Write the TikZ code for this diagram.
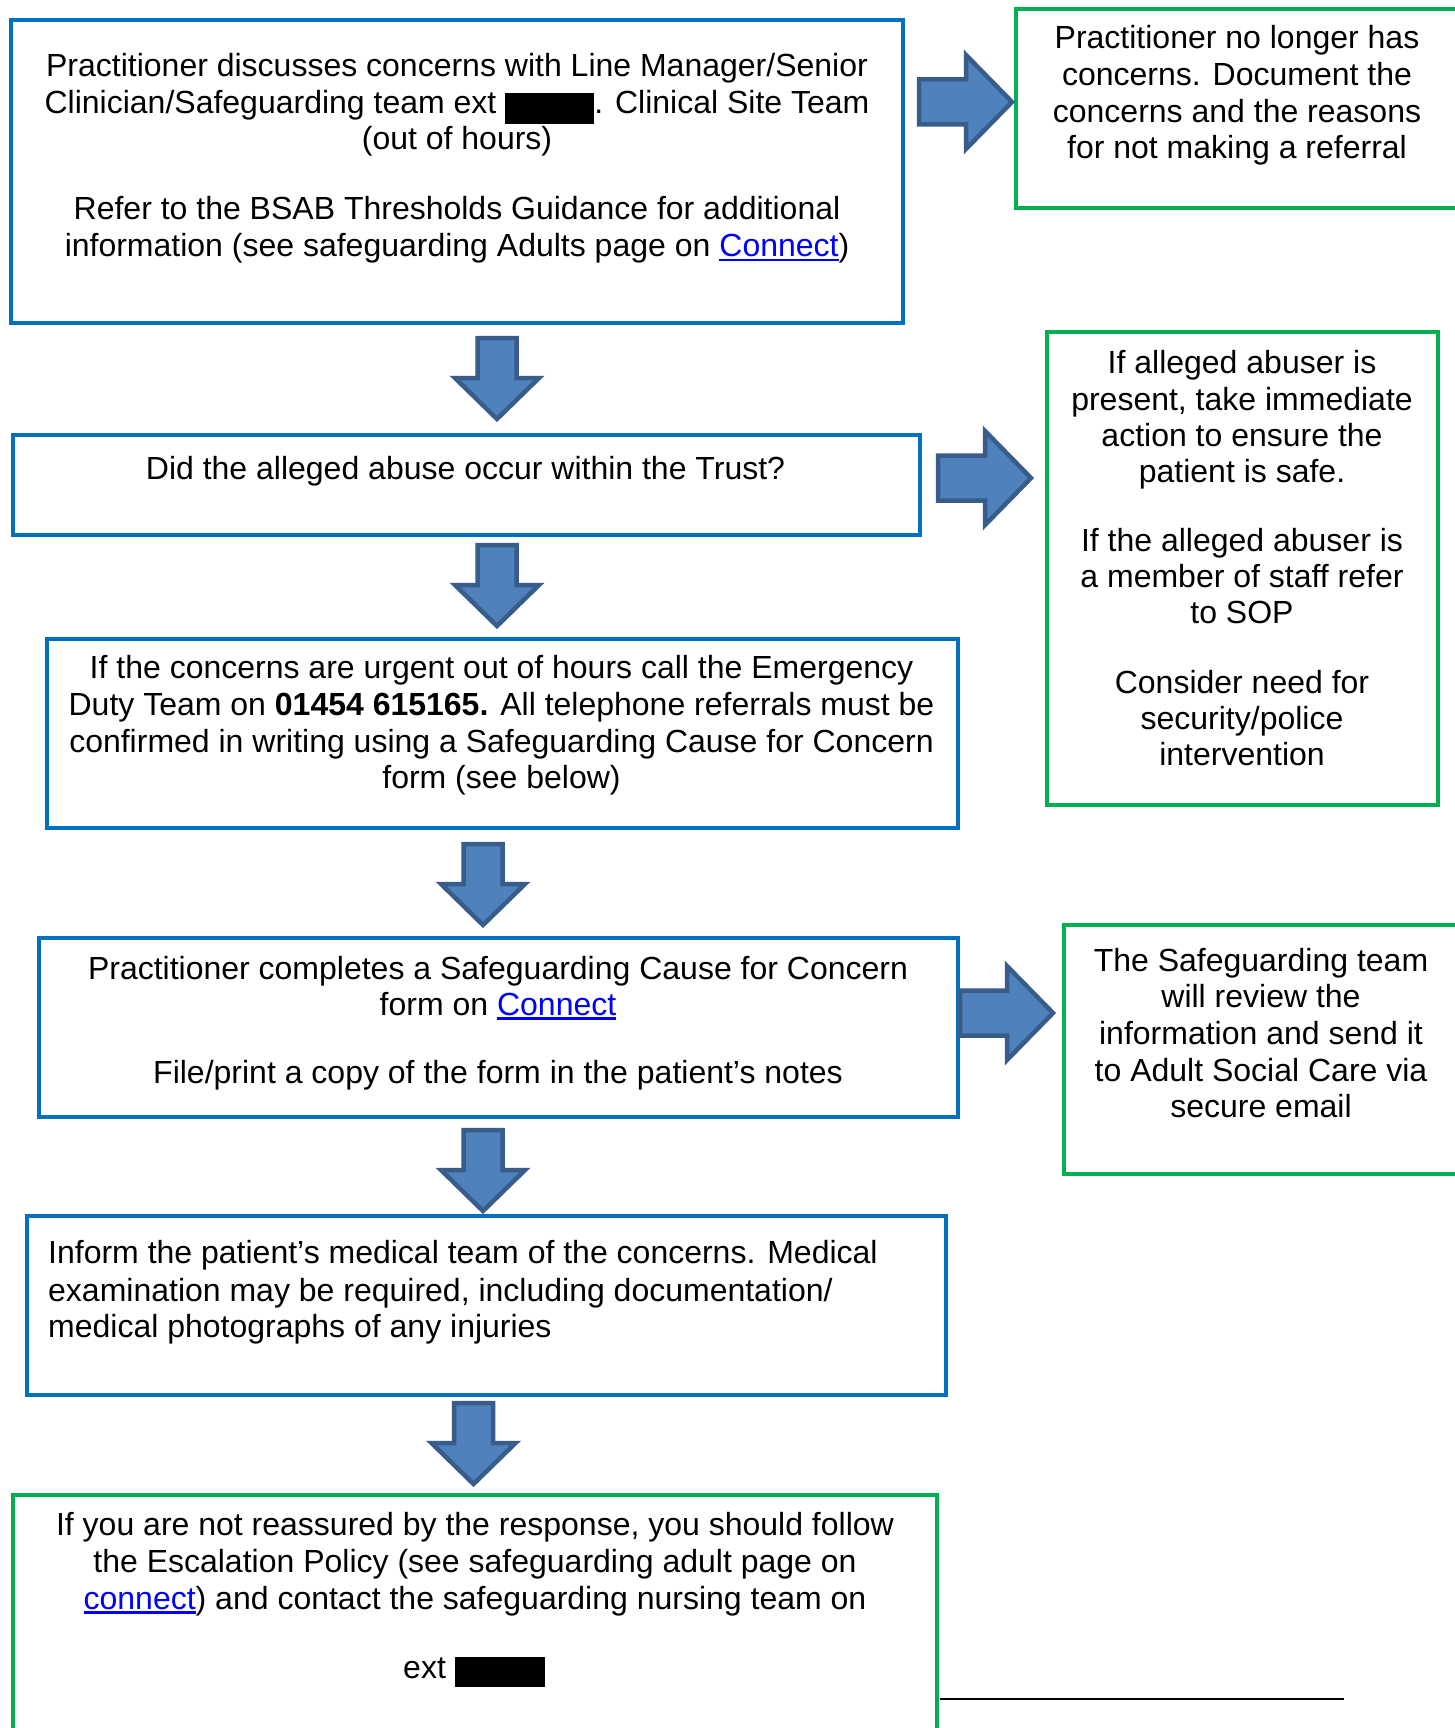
\documentclass[tikz,border=0pt]{standalone}
\usepackage{fontspec}
\setmainfont{Liberation Sans}
\definecolor{boxblue}{HTML}{0070C0}
\definecolor{boxgreen}{HTML}{00B050}
\definecolor{arrfill}{HTML}{4F81BD}
\definecolor{arrline}{HTML}{385D8A}
\definecolor{linkblue}{HTML}{0000FF}
\newcommand\lnk[1]{{\color{linkblue}\setbox0\hbox{#1}\rlap{\rule[-4.5pt]{\wd0}{2.5pt}}\box0}}
\tikzset{
  bbox/.style={draw=boxblue, line width=4pt, rectangle, inner sep=0pt, outer sep=0pt, anchor=north west},
  gbox/.style={draw=boxgreen, line width=4pt, rectangle, inner sep=0pt, outer sep=0pt, anchor=north west},
  txt/.style={font=\fontsize{32}{37}\selectfont, inner sep=0pt, anchor=base},
  ltxt/.style={txt, anchor=base west},
  blockarrow/.style={fill=arrfill, draw=arrline, line width=4.5pt, line join=miter},
  downarr/.pic={\draw[blockarrow] (-19.5,2) -- (19.5,2) -- (19.5,42) -- (42,42) -- (0,83) -- (-42,42) -- (-19.5,42) -- cycle;},
  rightarr/.pic={\draw[blockarrow] (2,-22.5) -- (49,-22.5) -- (49,-47) -- (95,0) -- (49,47) -- (49,22.5) -- (2,22.5) -- cycle;}
}
\begin{document}
\begin{tikzpicture}[x=1pt,y=-1pt]
\useasboundingbox[fill=white] (0,0) rectangle (1455,1728);
% boxes
\node[bbox, minimum width=892pt, minimum height=303pt] (b1) at (11,20) {};
\node[gbox, minimum width=460pt, minimum height=199pt] (g1) at (1016,9) {};
\node[bbox, minimum width=907pt, minimum height=100pt] (b2) at (13,435) {};
\node[gbox, minimum width=391pt, minimum height=473pt] (g2) at (1047,332) {};
\node[bbox, minimum width=911pt, minimum height=189pt] (b3) at (47,639) {};
\node[bbox, minimum width=919pt, minimum height=179pt] (b4) at (39,938) {};
\node[gbox, minimum width=420pt, minimum height=249pt] (g4) at (1064,925) {};
\node[bbox, minimum width=919pt, minimum height=179pt] (b5) at (27,1216) {};
\node[gbox, minimum width=924pt, minimum height=260pt] (g6) at (13,1495) {};
% block arrows
\pic (ra1) at (917,102) {rightarr};
\pic (da1) at (497,336) {downarr};
\pic (ra2) at (936,478) {rightarr};
\pic (da2) at (497,543) {downarr};
\pic (da3) at (483,842) {downarr};
\pic (ra4) at (958,1013) {rightarr};
\pic (da4) at (483,1128) {downarr};
\pic (da5) at (473.5,1401) {downarr};
% bottom line
\coordinate (la) at (940,1699);
\coordinate (lb) at (1344,1699);
\draw[line width=2pt] (la) -- (lb);
% box 1 text
\node[txt] (t1a) at (457,77) {Practitioner discusses concerns with Line Manager/Senior};
\node[txt] (t1b) at (457,114) {Clinician/Safeguarding team ext \rule[-10pt]{89pt}{31pt}. Clinical Site Team};
\node[txt] (t1c) at (457,150) {(out of hours)};
\node[txt] (t1d) at (457,220) {Refer to the BSAB Thresholds Guidance for additional};
\node[txt] (t1e) at (457,257) {information (see safeguarding Adults page on \lnk{Connect})};
% green 1
\node[txt] (u1a) at (1237,49) {Practitioner no longer has};
\node[txt] (u1b) at (1237,86) {concerns. Document the};
\node[txt] (u1c) at (1237,123) {concerns and the reasons};
\node[txt] (u1d) at (1237,159) {for not making a referral};
% box 2
\node[txt] (t2a) at (465.5,479) {Did the alleged abuse occur within the Trust?};
% green 2
\node[txt] (u2a) at (1242,373) {If alleged abuser is};
\node[txt] (u2b) at (1242,410) {present, take immediate};
\node[txt] (u2c) at (1242,446) {action to ensure the};
\node[txt] (u2d) at (1242,482) {patient is safe.};
\node[txt] (u2e) at (1242,551) {If the alleged abuser is};
\node[txt] (u2f) at (1242,587) {a member of staff refer};
\node[txt] (u2g) at (1242,623) {to SOP};
\node[txt] (u2h) at (1242,693) {Consider need for};
\node[txt] (u2i) at (1242,729) {security/police};
\node[txt] (u2j) at (1242,765) {intervention};
% box 3
\node[txt] (t3a) at (501.5,678) {If the concerns are urgent out of hours call the Emergency};
\node[txt] (t3b) at (501.5,715) {Duty Team on \textbf{01454 615165.} All telephone referrals must be};
\node[txt] (t3c) at (501.5,752) {confirmed in writing using a Safeguarding Cause for Concern};
\node[txt] (t3d) at (501.5,788) {form (see below)};
% box 4
\node[txt] (t4a) at (498,979) {Practitioner completes a Safeguarding Cause for Concern};
\node[txt] (t4b) at (498,1015) {form on \lnk{Connect}};
\node[txt] (t4c) at (498,1083) {File/print a copy of the form in the patient’s notes};
% green 4
\node[txt] (u4a) at (1261,971) {The Safeguarding team};
\node[txt] (u4b) at (1261,1007) {will review the};
\node[txt] (u4c) at (1261,1044) {information and send it};
\node[txt] (u4d) at (1261,1081) {to Adult Social Care via};
\node[txt] (u4e) at (1261,1117) {secure email};
% box 5
\node[ltxt] (t5a) at (48,1263) {Inform the patient’s medical team of the concerns. Medical};
\node[ltxt] (t5b) at (48,1301) {examination may be required, including documentation/};
\node[ltxt] (t5c) at (48,1337) {medical photographs of any injuries};
% box 6
\node[txt] (t6a) at (475,1535) {If you are not reassured by the response, you should follow};
\node[txt] (t6b) at (475,1572) {the Escalation Policy (see safeguarding adult page on};
\node[txt] (t6c) at (475,1609) {\lnk{connect}) and contact the safeguarding nursing team on};
\node[txt] (t6d) at (474,1678) {ext \rule[-9pt]{90pt}{30pt}};
\end{tikzpicture}
\end{document}
